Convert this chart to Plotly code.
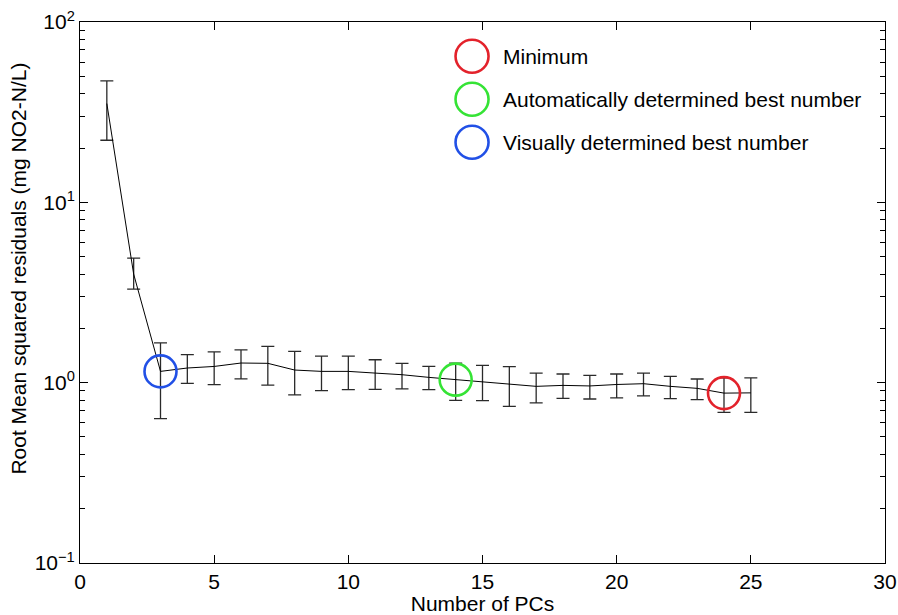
import plotly.graph_objects as go

# Cross-validated RMSE per number of principal components
n_pcs = list(range(1, 26))
rmse = [35.3, 4.0, 1.155, 1.206, 1.23, 1.285, 1.28, 1.175, 1.155, 1.155,
        1.13, 1.107, 1.07, 1.039, 1.017, 0.987, 0.954, 0.966, 0.959, 0.977,
        0.987, 0.954, 0.930, 0.875, 0.878]
rmse_upper = [47.1, 4.90, 1.66, 1.43, 1.48, 1.52, 1.59, 1.49, 1.405, 1.405,
              1.34, 1.28, 1.23, 1.285, 1.246, 1.226, 1.131, 1.117, 1.097, 1.117,
              1.131, 1.084, 1.048, 1.062, 1.062]
rmse_lower = [22.1, 3.30, 0.632, 0.99, 0.975, 1.05, 0.97, 0.855, 0.903, 0.915,
              0.918, 0.923, 0.915, 0.798, 0.795, 0.739, 0.772, 0.819, 0.812, 0.823,
              0.844, 0.815, 0.805, 0.685, 0.685]

best_auto = 14
best_visual = 3
best_min = n_pcs[rmse.index(min(rmse))]

marker_labels = ["Minimum", "Automatically determined best number",
                 "Visually determined best number"]
marker_pcs = [best_min, best_auto, best_visual]
marker_colors = ["#e3222b", "#35e335", "#2150e6"]

y_tickvals = [0.1, 1, 10, 100]
y_ticktext = ["10<sup>−1</sup>", "10<sup>0</sup>", "10<sup>1</sup>", "10<sup>2</sup>"]
y_minor = [m * 10 ** e for e in (-1, 0, 1) for m in range(2, 10)]
x_tickvals = [0, 5, 10, 15, 20, 25, 30]

FONT = "Liberation Sans, Arial, Helvetica, sans-serif"
FS = 21

fig = go.Figure()

fig.add_trace(go.Scatter(
    x=n_pcs, y=rmse, mode="lines",
    line=dict(color="black", width=1),
    error_y=dict(type="data", symmetric=False,
                 array=[u - v for u, v in zip(rmse_upper, rmse)],
                 arrayminus=[v - l for v, l in zip(rmse, rmse_lower)],
                 color="#2a2a2a", thickness=1.3, width=6.5),
    showlegend=False, hoverinfo="skip",
))

for label, pc, color in zip(marker_labels, marker_pcs, marker_colors):
    fig.add_trace(go.Scatter(
        x=[pc], y=[rmse[pc - 1]], mode="markers", name=label,
        marker=dict(symbol="circle-open", size=32, color=color,
                    line=dict(color=color, width=2.6)),
        showlegend=False,
    ))

# Legend drawn as large open circles with labels, top right of the axes
legend_x = 0.487
legend_y0 = 0.9367
legend_dy = 0.0795
for i, (label, color) in enumerate(zip(marker_labels, marker_colors)):
    yc = legend_y0 - i * legend_dy
    fig.add_shape(type="circle", xref="paper", yref="paper",
                  xsizemode="pixel", ysizemode="pixel",
                  xanchor=legend_x, yanchor=yc,
                  x0=-16.5, x1=16.5, y0=-16.5, y1=16.5,
                  line=dict(color=color, width=2.6))
    fig.add_annotation(xref="paper", yref="paper", x=legend_x + 0.0355, y=yc,
                       text=label, showarrow=False, xanchor="left", yanchor="middle",
                       font=dict(family=FONT, size=FS, color="black"))

fig.add_annotation(xref="paper", yref="paper", x=-0.0765, y=0.545,
                   text="Root Mean squared residuals (mg NO2-N/L)", textangle=-90,
                   showarrow=False, xanchor="center", yanchor="middle",
                   font=dict(family=FONT, size=FS, color="black"))

fig.update_layout(
    width=898, height=615,
    margin=dict(l=80, r=13, t=22, b=52),
    paper_bgcolor="white", plot_bgcolor="white",
    font=dict(family=FONT, size=FS, color="black"),
    xaxis=dict(
        range=[0, 30], tickvals=x_tickvals, automargin=False,
        showline=True, linecolor="black", linewidth=1, mirror="ticks",
        ticks="inside", ticklen=8, tickcolor="black", tickwidth=1,
        showgrid=False, zeroline=False,
        title=dict(text="Number of PCs", standoff=0,
                   font=dict(family=FONT, size=FS)),
        tickfont=dict(family=FONT, size=FS),
    ),
    yaxis=dict(
        type="log", range=[-1, 2], automargin=False,
        tickvals=y_tickvals, ticktext=y_ticktext,
        showline=True, linecolor="black", linewidth=1, mirror="ticks",
        ticks="inside", ticklen=8, tickcolor="black", tickwidth=1,
        minor=dict(tickvals=y_minor, ticks="inside", ticklen=5,
                   tickcolor="black", tickwidth=1, showgrid=False),
        showgrid=False, zeroline=False,
        tickfont=dict(family=FONT, size=FS),
    ),
)

fig.write_html("out.html")
